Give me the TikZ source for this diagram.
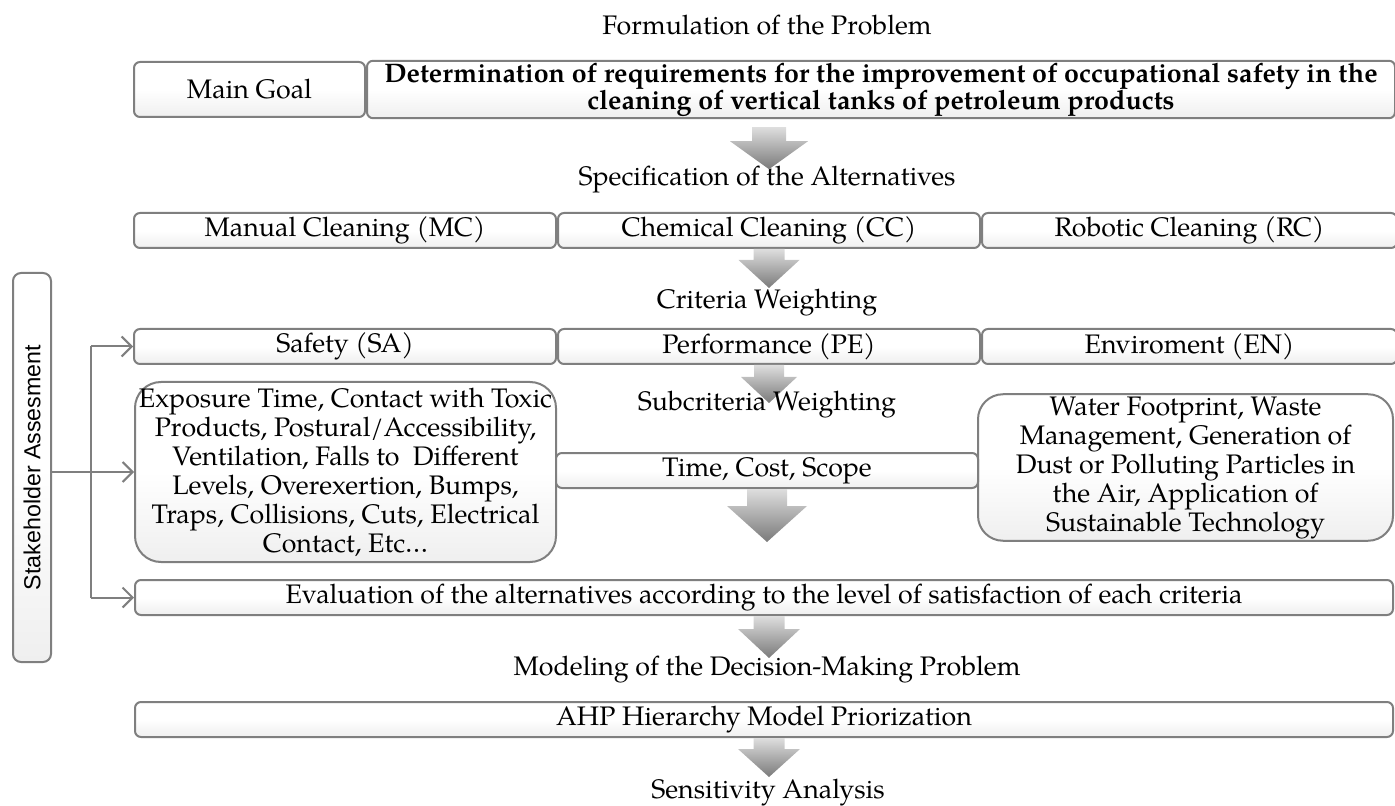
\documentclass[tikz,border=0pt]{standalone}
\usepackage{fontspec}
\setmainfont{TeX Gyre Pagella}
\setsansfont{Liberation Sans}
\usepackage{tikz}
\usetikzlibrary{positioning,arrows.meta,calc}
\definecolor{palEdge}{HTML}{7F7F7F}
\definecolor{palFillLt}{HTML}{EFEFEF}
\definecolor{palArrowTop}{HTML}{DEDEDE}
\definecolor{palArrowBot}{HTML}{7A7A7A}
\tikzset{
  stepbox/.style={draw=palEdge, line width=1pt, rounded corners=3pt,
                  top color=white, bottom color=palFillLt, middle color=white,
                  inner sep=1pt, align=center, font=\fontsize{13.4}{14.5}\selectfont},
  rowbox/.style={stepbox, minimum width=211pt, minimum height=17.5pt},
  listbox/.style={stepbox, rounded corners=13pt},
  phaselbl/.style={font=\fontsize{13.4}{14.5}\selectfont, inner sep=1pt},
  feedline/.style={draw=palEdge, line width=1pt},
  feedarrow/.style={feedline, -{Straight Barb[length=5pt, width=10pt]}},
  pics/blkarrow/.style n args={4}{code={
    \shade[top color=palArrowTop, bottom color=palArrowBot]
      (-#1,0) -- (#1,0) -- (#1,-#3) -- (#2,-#3) -- (0,-#4)
      -- (-#2,-#3) -- (-#1,-#3) -- cycle;
  }},
}

\begin{document}
\begin{tikzpicture}[x=0.5pt, y=0.5pt]
\useasboundingbox (0,0) rectangle (1395,-806);
%% Goal
\node[stepbox, minimum width=115.5pt, minimum height=27.5pt] (goallbl) at (249.5,-89.5) {Main Goal};
\node[stepbox, minimum width=514pt, minimum height=27.5pt,
      font=\bfseries\fontsize{13.4}{13.5}\selectfont, right=0pt of goallbl] (goal)
  {Determination of requirements for the improvement of occupational safety in the\\
   cleaning of vertical tanks of petroleum products};
%% Alternatives
\node[rowbox] (mc) at (345,-230.5) {Manual Cleaning (MC)};
\node[rowbox, right=0pt of mc] (cc) {Chemical Cleaning (CC)};
\node[rowbox, minimum width=207.5pt, right=0pt of cc] (rc) {Robotic Cleaning (RC)};
%% Criteria
\node[rowbox] (sa) at (345,-346.5) {Safety (SA)};
\node[rowbox, right=0pt of sa] (pe) {Performance (PE)};
\node[rowbox, minimum width=207.5pt, right=0pt of pe] (en) {Enviroment (EN)};
%% Subcriteria
\node[listbox, minimum width=210.5pt, minimum height=90pt] (sabox) at (345.5,-472)
  {Exposure Time, Contact with Toxic\\ Products, Postural/Accessibility,\\
   Ventilation, Falls to~ Different\\ Levels, Overexertion, Bumps,\\
   Traps, Collisions, Cuts, Electrical\\ Contact, Etc…};
\node[listbox, rounded corners=12.5pt, minimum width=207.5pt, minimum height=70.5pt,
      font=\fontsize{13.4}{13.2}\selectfont] (enbox) at (1185.5,-467.5)
  {Water Footprint, Waste\\ Management, Generation of\\ Dust or Polluting Particles in\\
   the Air, Application of\\ Sustainable Technology};
\node[rowbox] (tcs) at (767,-470.5) {Time, Cost, Scope};
%% Evaluation and model
\node[stepbox, minimum width=629pt, minimum height=17.5pt] (eval) at (764,-597.5)
  {Evaluation of the alternatives according to the level of satisfaction of each criteria};
\node[stepbox, minimum width=629pt, minimum height=17.5pt] (ahp) at (764,-719.5)
  {AHP Hierarchy Model Priorization};
\node[stepbox, rotate=90, rounded corners=4pt, minimum width=194.5pt, minimum height=19pt,
      font=\sffamily\fontsize{11.6}{12}\selectfont] (stake) at (32,-467.5) {Stakeholder Assesment};
%% Flow arrows
\pic at ([yshift=-4pt]goal.south -| cc.north) {blkarrow={17}{39}{14}{42}};
\pic at (cc.south) {blkarrow={15.5}{30.5}{11}{39}};
\pic at (pe.south) {blkarrow={15}{28}{12}{38}};
\pic at (tcs.south) {blkarrow={20}{40}{17}{53}};
\pic at (eval.south -| cc.south) {blkarrow={15.5}{31}{13}{42}};
\pic at (ahp.south -| cc.south) {blkarrow={15.5}{31}{11}{39}};
%% Phase labels
\node[phaselbl] (formlbl) at (767,-25) {Formulation of the Problem};
\node[phaselbl] (speclbl) at (767,-180) {Specification of the Alternatives};
\node[phaselbl] (critlbl) at (767,-303) {Criteria Weighting};
\node[phaselbl] (sublbl) at (767,-405) {Subcriteria Weighting};
\node[phaselbl] (modlbl) at (767,-670) {Modeling of the Decision-Making Problem};
\node[phaselbl] (senslbl) at (768,-793) {Sensitivity Analysis};
%% Stakeholder feedback
\coordinate (bus) at (91,-470);
\draw[feedline] (bus |- sa.west) -- (bus |- eval.west);
\draw[feedarrow] (stake.south |- sabox.west) -- (sabox.west);
\draw[feedarrow] (bus |- sa.west) -- (sa.west);
\draw[feedarrow] (bus |- eval.west) -- (eval.west);
\end{tikzpicture}
\end{document}
